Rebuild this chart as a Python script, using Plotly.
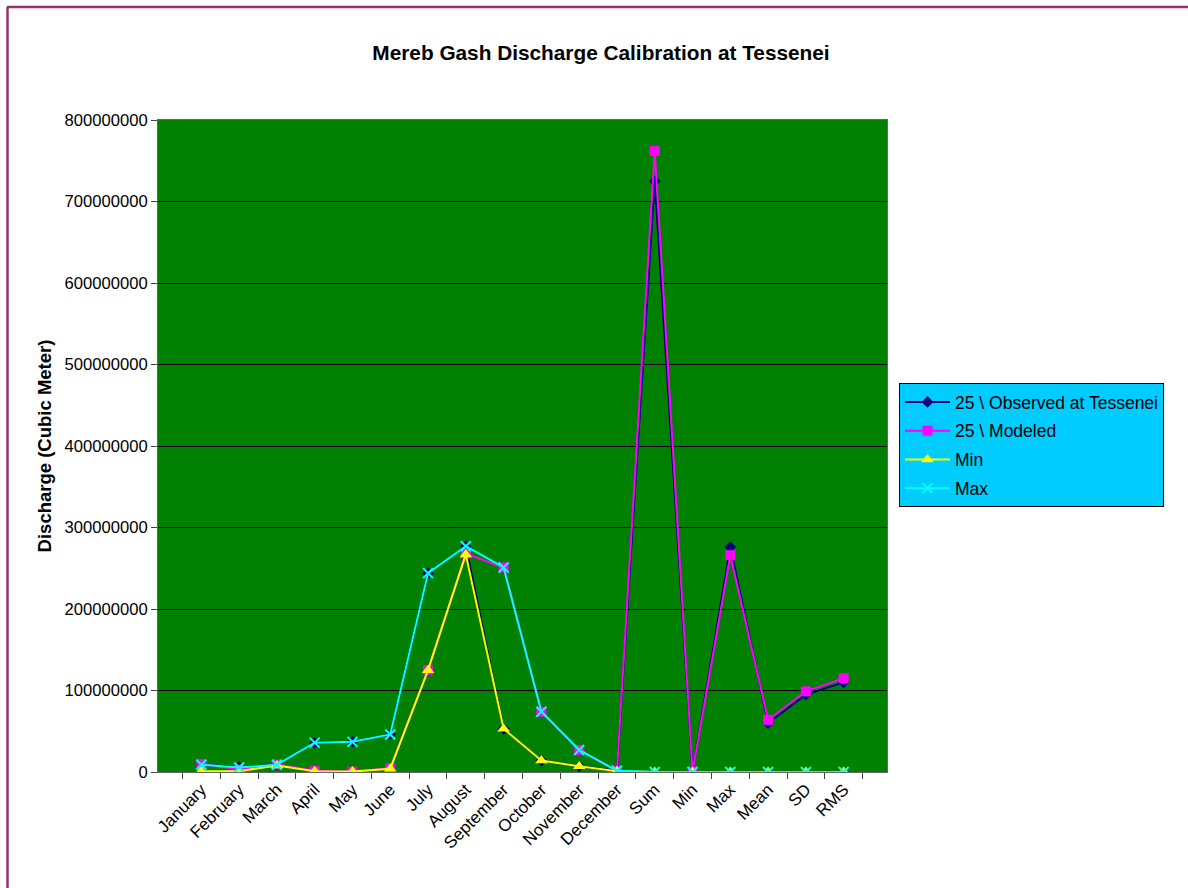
import plotly.graph_objects as go

categories = ["January", "February", "March", "April", "May", "June", "July",
              "August", "September", "October", "November", "December",
              "Sum", "Min", "Max", "Mean", "SD", "RMS"]

observed = [9e6, 6e6, 9e6, 36e6, 37e6, 46e6, 244e6, 277e6, 53e6, 14e6, 7e6, 1.5e6,
            725e6, 1e6, 276e6, 60e6, 95e6, 110e6]
modeled = [10e6, 3e6, 9.5e6, 1.5e6, 0.5e6, 4.5e6, 125e6, 268e6, 251e6, 74e6, 27e6, 1.5e6,
           762e6, 0.5e6, 266e6, 64e6, 99e6, 115e6]
min_vals = [1e6, 1e6, 8e6, 1e6, 0.5e6, 4e6, 125e6, 267e6, 53e6, 14e6, 7e6, 1e6,
            0, 0, 0, 0, 0, 0]
max_vals = [9e6, 5.5e6, 9e6, 36e6, 37e6, 46e6, 244e6, 277e6, 251e6, 74e6, 27e6, 1.5e6,
            0, 0, 0, 0, 0, 0]

y_ticks = [0, 100000000, 200000000, 300000000, 400000000, 500000000,
           600000000, 700000000, 800000000]

FONT = "Liberation Sans, Arial, sans-serif"

fig = go.Figure()
fig.add_trace(go.Scatter(x=categories, y=observed, name="25 \\ Observed at Tessenei",
                         mode="lines+markers", legendgroup="a",
                         line=dict(color="#000080", width=2),
                         marker=dict(symbol="diamond", size=9, color="#000080")))
fig.add_trace(go.Scatter(x=categories, y=modeled, name="25 \\ Modeled",
                         mode="lines+markers", legendgroup="b",
                         line=dict(color="#FF00FF", width=2),
                         marker=dict(symbol="square", size=10, color="#FF00FF")))
fig.add_trace(go.Scatter(x=categories, y=min_vals, name="Min",
                         mode="lines+markers", legendgroup="c",
                         line=dict(color="#FFFF00", width=2),
                         marker=dict(symbol="triangle-up", size=11, color="#FFFF00")))
fig.add_trace(go.Scatter(x=categories, y=max_vals, name="Max",
                         mode="lines+markers", legendgroup="d",
                         line=dict(color="#00FFFF", width=2),
                         marker=dict(symbol="x-thin-open", size=10,
                                     line=dict(color="#00FFFF", width=2))))

W, H = 1188, 888
L, R, T, B = 158, 887, 120, 772
pw, ph = R - L, B - T

def px(x):
    return (x - L) / pw

def py(y):
    return (B - y) / ph

fig.update_layout(
    width=W, height=H,
    margin=dict(l=L, r=W - R, t=T, b=H - B, autoexpand=False),
    paper_bgcolor="white",
    plot_bgcolor="#008000",
    font=dict(family=FONT, size=17, color="black"),
    title=dict(text="<b>Mereb Gash Discharge Calibration at Tessenei</b>",
               x=601 / W, xref="container", xanchor="center",
               y=1 - 53 / H, yref="container", yanchor="middle",
               font=dict(family=FONT, size=20.8, color="black")),
    showlegend=True,
    legend=dict(x=px(899), y=py(383), xanchor="left", yanchor="top",
                bgcolor="#00CCFF", bordercolor="black", borderwidth=1,
                font=dict(family=FONT, size=17.5, color="black"),
                tracegroupgap=3, itemwidth=45),
    xaxis=dict(type="category", tickangle=-45, tickson="boundaries",
               ticks="outside", ticklen=6, tickcolor="#444444",
               showline=True, linecolor="#666666", linewidth=1, mirror=True,
               showgrid=False, zeroline=False,
               tickfont=dict(family=FONT, size=17, color="black")),
    yaxis=dict(range=[0, 800000000], tickvals=y_ticks,
               ticktext=[str(v) for v in y_ticks],
               ticks="outside", ticklen=6, tickcolor="#444444",
               showline=True, linecolor="#666666", linewidth=1, mirror=True,
               showgrid=True, gridcolor="black", gridwidth=1, zeroline=False,
               tickfont=dict(family=FONT, size=16.6, color="black"),
               title=dict(text="<b>Discharge (Cubic Meter)</b>",
                          font=dict(family=FONT, size=18.5, color="black"),
                          standoff=8)),
    shapes=[
        dict(type="line", xref="paper", yref="paper",
             x0=px(7), x1=px(1200), y0=py(7), y1=py(7),
             line=dict(color="#993366", width=2.5)),
        dict(type="line", xref="paper", yref="paper",
             x0=px(7.5), x1=px(7.5), y0=py(7), y1=py(900),
             line=dict(color="#993366", width=2.5)),
    ],
)

fig.write_html("out.html",
               config={"displayModeBar": False},
               post_script="document.body.style.margin='0';document.body.style.overflow='hidden';")
